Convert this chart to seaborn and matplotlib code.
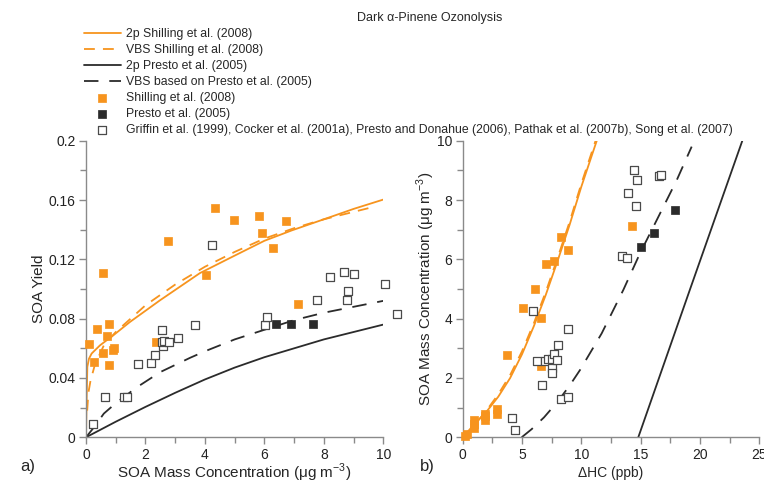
import numpy as np
import pandas as pd
import matplotlib
matplotlib.use("Agg")
import matplotlib.pyplot as plt
import seaborn as sns

sns.set_theme(style="ticks")
plt.rcParams['font.family'] = ['Liberation Sans', 'DejaVu Sans']
plt.rcParams['mathtext.fontset'] = 'custom'
plt.rcParams['mathtext.rm'] = 'Liberation Sans'

ORANGE = '#F7941E'
DARK = '#2b2b2b'

# ---------------- Panel a: SOA yield vs SOA mass ----------------
a_2p_shill_x = [0, 0.02, 0.045, 0.1, 0.19, 0.47, 0.92, 1.48, 2.49, 3.83, 5, 6, 6.92, 8, 9, 10]
a_2p_shill_y = [0, 0.025, 0.0475, 0.053, 0.0565, 0.062, 0.0688, 0.0778, 0.0924, 0.1107, 0.1225, 0.1325, 0.1395, 0.147, 0.154, 0.1603]
a_vbs_shill_x = [0.04, 0.08, 0.15, 0.3, 0.6, 1, 1.5, 2, 3, 4, 5, 6, 7, 8, 9, 9.6]
a_vbs_shill_y = [0.018, 0.03, 0.038, 0.049, 0.062, 0.071, 0.08, 0.089, 0.103, 0.115, 0.125, 0.134, 0.141, 0.147, 0.152, 0.155]
a_2p_presto_x = [0, 1, 2, 3, 4, 5, 6, 7, 8, 9, 10]
a_2p_presto_y = [0, 0.0105, 0.0205, 0.030, 0.039, 0.047, 0.054, 0.060, 0.066, 0.071, 0.076]
a_vbs_presto_x = [0, 0.25, 0.6, 1, 1.7, 2.5, 3.5, 4, 5, 6, 7, 8, 9, 10]
a_vbs_presto_y = [0, 0.0063, 0.016, 0.023, 0.0336, 0.044, 0.0536, 0.058, 0.066, 0.0725, 0.079, 0.084, 0.088, 0.092]

a_shill_x = [0.11, 0.26, 0.38, 0.58, 0.58, 0.71, 0.78, 0.77, 0.92, 0.95, 2.37, 2.77, 4.02, 4.35, 4.99, 5.82, 5.93, 6.28, 6.74, 7.12]
a_shill_y = [0.063, 0.0508, 0.073, 0.111, 0.057, 0.068, 0.0766, 0.049, 0.059, 0.060, 0.0645, 0.1326, 0.1092, 0.1546, 0.1463, 0.1492, 0.1378, 0.1279, 0.1456, 0.0901]
a_presto_x = [6.40, 6.88, 7.65]
a_presto_y = [0.0762, 0.0762, 0.0762]
a_other_x = [0.22, 0.65, 1.28, 1.37, 1.75, 2.17, 2.33, 2.56, 2.59, 2.54, 2.63, 2.79, 3.09, 3.67, 4.23,
             6.02, 6.09, 7.78, 8.21, 8.67, 9.01, 8.81, 8.78, 10.05, 10.45]
a_other_y = [0.0092, 0.0274, 0.0274, 0.0274, 0.0497, 0.0503, 0.0553, 0.0724, 0.0616, 0.0643, 0.0649, 0.0643, 0.0672, 0.0755, 0.1299,
             0.0755, 0.0811, 0.0926, 0.1083, 0.1117, 0.1103, 0.0987, 0.0926, 0.1036, 0.0834]

a_xticks = [0, 2, 4, 6, 8, 10]
a_xtick_labels = ['0', '2', '4', '6', '8', '10']
a_yticks = [0, 0.04, 0.08, 0.12, 0.16, 0.2]
a_ytick_labels = ['0', '0.04', '0.08', '0.12', '0.16', '0.2']

# ---------------- Panel b: SOA mass vs delta HC ----------------
b_2p_shill_x = [0, 1, 2, 3, 4, 5, 6, 7, 8, 9, 10, 11.3]
b_2p_shill_y = [0, 0.45, 0.86, 1.37, 2.0, 2.8, 3.75, 4.8, 5.95, 7.15, 8.45, 10]
b_vbs_shill_x = [0.2, 1, 2, 3, 4, 5, 6, 7, 8, 9, 10, 11.2]
b_vbs_shill_y = [0.04, 0.42, 0.9, 1.45, 2.1, 2.9, 3.85, 4.9, 6.05, 7.25, 8.55, 10]
b_2p_presto_x = [14.8, 19.17, 23.57]
b_2p_presto_y = [0, 5, 10]
b_vbs_presto_x = [4.97, 5.8, 6.85, 8, 9.04, 9.89, 11.71, 13.54, 14.94, 16.2, 18.04, 19.3]
b_vbs_presto_y = [0, 0.27, 0.67, 1.2, 1.76, 2.27, 3.5, 4.97, 6.2, 7.2, 8.67, 9.8]

b_shill_x = [0.2, 0.35, 0.95, 0.95, 0.95, 1.9, 1.9, 1.9, 2.85, 2.85, 3.7, 5.06, 6.09, 6.6, 6.6, 6.99, 7.72, 8.31, 8.85, 14.24]
b_shill_y = [0.05, 0.1, 0.3, 0.45, 0.6, 0.6, 0.72, 0.8, 0.8, 0.95, 2.77, 4.37, 5.0, 4.03, 2.4, 5.84, 5.95, 6.76, 6.31, 7.13]
b_presto_x = [15.03, 16.12, 17.92]
b_presto_y = [6.43, 6.90, 7.67]
b_other_x = [4.13, 4.41, 5.93, 6.26, 6.66, 6.9, 7.2, 7.5, 7.5, 7.5, 7.7, 7.92, 8.03, 8.26, 8.85, 8.88,
             13.43, 13.88, 13.93, 14.44, 14.69, 14.63, 16.55, 16.74]
b_other_y = [0.66, 0.25, 4.26, 2.56, 1.76, 2.57, 2.64, 2.65, 2.35, 2.18, 2.81, 2.62, 3.11, 1.3, 1.37, 3.65,
             6.10, 6.03, 8.25, 9.02, 8.69, 7.81, 8.82, 8.84]

b_xticks = [0, 5, 10, 15, 20, 25]
b_xtick_labels = ['0', '5', '10', '15', '20', '25']
b_yticks = [0, 2, 4, 6, 8, 10]
b_ytick_labels = ['0', '2', '4', '6', '8', '10']

labels = ['2p Shilling et al. (2008)', 'VBS Shilling et al. (2008)', '2p Presto et al. (2005)',
          'VBS based on Presto et al. (2005)', 'Shilling et al. (2008)', 'Presto et al. (2005)',
          'Griffin et al. (1999), Cocker et al. (2001a), Presto and Donahue (2006), Pathak et al. (2007b), Song et al. (2007)']

fig = plt.figure(figsize=(7.64, 4.86), dpi=100)
W, H = 764, 486
axA = fig.add_axes([86 / W, 1 - 437.3 / H, (383.3 - 86) / W, (437.3 - 140.7) / H])
axB = fig.add_axes([462.7 / W, 1 - 437.3 / H, (759.3 - 462.7) / W, (437.3 - 140.7) / H])

DASH_O = (0, (6, 4.5))
DASH_K = (0, (8, 6))
MS = 30


def draw(ax, lines, shill, presto, other):
    (x1, y1), (x2, y2), (x3, y3), (x4, y4) = lines
    sns.lineplot(x=x1, y=y1, ax=ax, color=ORANGE, lw=1.3, sort=False, estimator=None, label=labels[0])
    sns.lineplot(x=x2, y=y2, ax=ax, color=ORANGE, lw=1.3, sort=False, estimator=None, linestyle=DASH_O, label=labels[1])
    sns.lineplot(x=x3, y=y3, ax=ax, color=DARK, lw=1.3, sort=False, estimator=None, label=labels[2])
    sns.lineplot(x=x4, y=y4, ax=ax, color=DARK, lw=1.3, sort=False, estimator=None, linestyle=DASH_K, label=labels[3])
    sns.scatterplot(x=shill[0], y=shill[1], ax=ax, marker='s', s=MS, color=ORANGE, edgecolor=ORANGE,
                    linewidth=0.5, label=labels[4], clip_on=False, zorder=3)
    sns.scatterplot(x=presto[0], y=presto[1], ax=ax, marker='s', s=MS, color=DARK, edgecolor=DARK,
                    linewidth=0.5, label=labels[5], clip_on=False, zorder=3)
    sns.scatterplot(x=other[0], y=other[1], ax=ax, marker='s', s=MS, facecolor='white', edgecolor='#4a4a4a',
                    linewidth=0.9, label=labels[6], clip_on=False, zorder=3)


draw(axA, [(a_2p_shill_x, a_2p_shill_y), (a_vbs_shill_x, a_vbs_shill_y),
           (a_2p_presto_x, a_2p_presto_y), (a_vbs_presto_x, a_vbs_presto_y)],
     (a_shill_x, a_shill_y), (a_presto_x, a_presto_y), (a_other_x, a_other_y))
draw(axB, [(b_2p_shill_x, b_2p_shill_y), (b_vbs_shill_x, b_vbs_shill_y),
           (b_2p_presto_x, b_2p_presto_y), (b_vbs_presto_x, b_vbs_presto_y)],
     (b_shill_x, b_shill_y), (b_presto_x, b_presto_y), (b_other_x, b_other_y))

handles, labs = axA.get_legend_handles_labels()
axA.get_legend().remove()
axB.get_legend().remove()

SPINE = '#8a8a8a'
for ax in (axA, axB):
    sns.despine(ax=ax)
    for s in ('left', 'bottom'):
        ax.spines[s].set_color(SPINE)
        ax.spines[s].set_linewidth(1.0)
    ax.tick_params(which='both', direction='out', color=SPINE, labelsize=10, labelcolor='#222222')
    ax.tick_params(which='major', length=5, width=1, pad=2.5)
    ax.tick_params(which='minor', length=4, width=1)

axA.set_xlim(0, 10)
axA.set_ylim(0, 0.2)
axA.set_xticks(a_xticks, a_xtick_labels)
axA.set_yticks(a_yticks, a_ytick_labels)
axA.set_xticks(np.arange(1, 10, 2), minor=True)
axA.set_yticks(np.arange(0.02, 0.2, 0.04), minor=True)
axA.set_xlabel('SOA Mass Concentration (μg m$^{-3}$)', fontsize=11, labelpad=0)
axA.set_ylabel('SOA Yield', fontsize=11, labelpad=2)

axB.set_xlim(0, 25)
axB.set_ylim(0, 10)
axB.set_xticks(b_xticks, b_xtick_labels)
axB.set_yticks(b_yticks, b_ytick_labels)
axB.set_xticks(np.arange(2.5, 25, 5), minor=True)
axB.set_yticks(np.arange(1, 10, 2), minor=True)
axB.set_xlabel('ΔHC (ppb)', fontsize=10, labelpad=3)
axB.set_ylabel('SOA Mass Concentration (μg m$^{-3}$)', fontsize=11, labelpad=0)

fig.text(20 / W, 1 - 466 / H, 'a)', fontsize=12, va='center', ha='left')
fig.text(420 / W, 1 - 466 / H, 'b)', fontsize=12, va='center', ha='left')

fig.text(430 / W, 1 - 18 / H, 'Dark α-Pinene Ozonolysis', fontsize=9, ha='center', va='center')
leg = fig.legend(handles, labs, loc='upper left', bbox_to_anchor=(78 / W, 1 - 22 / H), frameon=False,
                 fontsize=8.8, handlelength=3.0, handletextpad=0.4, labelspacing=0.33, borderpad=0,
                 markerscale=1.1)

fig.savefig('out.png', dpi=100)
